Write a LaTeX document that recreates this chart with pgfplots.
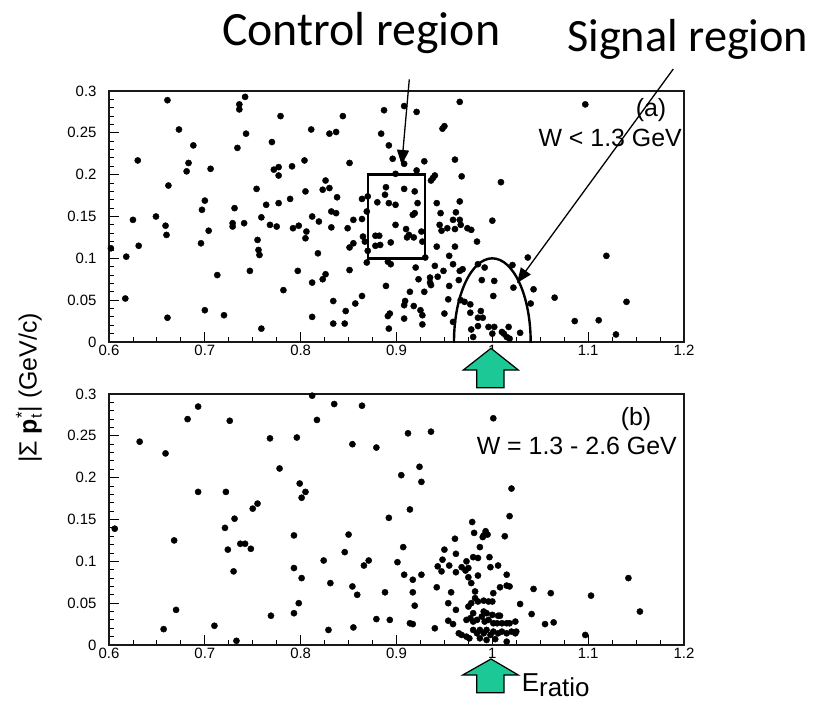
\documentclass[border=0pt]{standalone}
\usepackage{pgfplots}
\pgfplotsset{compat=1.18}
\usepackage{pgfplotstable}
\usepackage{fontspec}
\setmainfont{Liberation Sans}
\newfontfamily\calibri{Carlito}
\usetikzlibrary{arrows.meta}
\definecolor{arrowgreen}{RGB}{28,200,150}

\pgfplotstableread{
x y
0.661 0.289
0.742 0.293
0.736 0.284
0.736 0.278
0.673 0.254
0.779 0.270
0.844 0.270
0.811 0.254
0.830 0.249
0.837 0.251
0.743 0.249
0.887 0.277
0.884 0.249
0.892 0.235
0.896 0.219
0.688 0.235
0.734 0.232
0.770 0.239
0.630 0.217
0.683 0.214
0.681 0.204
0.706 0.207
0.772 0.206
0.777 0.209
0.777 0.199
0.791 0.210
0.804 0.217
0.851 0.214
0.899 0.201
0.662 0.187
0.754 0.183
0.805 0.180
0.826 0.193
0.823 0.182
0.830 0.184
0.838 0.173
0.889 0.185
0.888 0.176
0.880 0.167
0.892 0.166
0.899 0.164
0.864 0.171
0.870 0.174
0.700 0.169
0.764 0.164
0.777 0.166
0.789 0.171
0.697 0.158
0.731 0.160
0.832 0.156
0.837 0.154
0.625 0.146
0.649 0.150
0.659 0.139
0.660 0.128
0.704 0.133
0.729 0.142
0.729 0.138
0.741 0.142
0.759 0.149
0.768 0.140
0.775 0.138
0.792 0.136
0.798 0.139
0.806 0.132
0.805 0.124
0.812 0.150
0.819 0.144
0.832 0.137
0.849 0.136
0.855 0.146
0.864 0.147
0.869 0.156
0.899 0.140
0.865 0.126
0.867 0.120
0.878 0.127
0.882 0.127
0.878 0.115
0.883 0.116
0.894 0.119
0.855 0.118
0.851 0.113
0.870 0.109
0.869 0.095
0.891 0.096
0.894 0.093
0.602 0.112
0.618 0.102
0.631 0.115
0.696 0.118
0.755 0.122
0.756 0.110
0.757 0.104
0.818 0.106
0.747 0.085
0.713 0.080
0.797 0.085
0.826 0.081
0.823 0.075
0.812 0.071
0.782 0.062
0.851 0.086
0.889 0.067
0.617 0.052
0.834 0.049
0.864 0.055
0.857 0.046
0.700 0.038
0.720 0.032
0.661 0.029
0.812 0.030
0.847 0.037
0.893 0.034
0.891 0.031
0.834 0.022
0.846 0.022
0.759 0.016
0.892 0.016
0.908 0.282
0.921 0.275
0.966 0.287
1.097 0.284
0.948 0.255
0.950 0.258
0.961 0.218
0.908 0.213
0.921 0.205
0.929 0.216
0.938 0.196
0.940 0.199
0.936 0.193
0.968 0.198
1.009 0.191
0.908 0.183
0.919 0.180
0.922 0.166
0.917 0.152
0.919 0.154
0.910 0.135
0.913 0.128
0.918 0.125
0.911 0.125
0.926 0.132
0.927 0.120
0.942 0.166
0.966 0.168
0.946 0.154
0.962 0.155
0.945 0.140
0.947 0.133
0.953 0.136
0.959 0.146
0.966 0.146
0.967 0.140
0.961 0.135
0.974 0.136
0.978 0.134
1.000 0.145
0.984 0.120
0.942 0.114
0.961 0.114
0.955 0.103
0.930 0.101
0.959 0.093
1.037 0.101
1.119 0.103
0.920 0.089
0.940 0.091
0.949 0.085
0.943 0.078
0.935 0.077
0.935 0.071
0.936 0.068
0.966 0.085
0.969 0.087
0.985 0.093
0.992 0.089
0.989 0.074
1.002 0.073
1.021 0.092
1.022 0.065
1.043 0.063
1.001 0.055
0.965 0.074
0.955 0.067
0.923 0.075
0.929 0.060
0.914 0.060
0.954 0.051
0.909 0.049
0.908 0.044
0.918 0.043
0.925 0.038
0.927 0.032
0.927 0.021
0.908 0.028
1.040 0.046
1.065 0.053
1.140 0.048
1.086 0.025
1.111 0.026
1.129 0.009
0.967 0.050
0.971 0.048
0.977 0.045
0.950 0.034
0.977 0.035
0.988 0.037
0.985 0.029
0.990 0.029
0.959 0.024
0.985 0.019
0.978 0.015
0.980 0.006
0.996 0.018
1.002 0.018
1.000 0.010
1.010 0.012
1.012 0.010
1.015 0.006
1.018 0.004
1.017 0.018
1.029 0.011
}\toptable

\pgfplotstableread{
x y
0.812 0.298
0.835 0.288
0.864 0.286
0.693 0.285
0.682 0.270
0.726 0.268
0.817 0.269
0.632 0.243
0.659 0.229
0.768 0.247
0.796 0.248
0.854 0.240
0.879 0.236
0.778 0.211
0.799 0.193
0.805 0.183
0.801 0.176
0.693 0.183
0.722 0.183
0.755 0.169
0.750 0.163
0.731 0.151
0.721 0.140
0.606 0.139
0.668 0.125
0.724 0.114
0.737 0.121
0.742 0.121
0.748 0.115
0.730 0.088
0.793 0.131
0.793 0.092
0.801 0.080
0.850 0.132
0.846 0.111
0.824 0.101
0.866 0.095
0.871 0.101
0.892 0.152
0.901 0.099
0.831 0.074
0.854 0.070
0.859 0.060
0.888 0.063
0.798 0.050
0.670 0.042
0.793 0.038
0.769 0.035
0.879 0.031
0.893 0.030
0.657 0.019
0.710 0.023
0.829 0.018
0.855 0.021
0.733 0.005
1.001 0.271
0.912 0.253
0.936 0.255
0.924 0.213
0.905 0.203
0.926 0.195
1.020 0.187
0.914 0.162
1.018 0.154
0.979 0.147
0.981 0.134
0.993 0.136
0.991 0.131
0.990 0.129
0.995 0.132
1.013 0.130
0.961 0.127
0.907 0.117
0.950 0.114
0.987 0.117
0.962 0.109
0.948 0.102
0.973 0.100
0.980 0.105
0.985 0.104
0.997 0.105
0.943 0.094
0.947 0.088
0.955 0.095
0.968 0.093
0.975 0.092
0.972 0.089
0.962 0.087
0.998 0.093
1.006 0.095
0.908 0.084
0.926 0.084
0.917 0.078
0.975 0.081
0.985 0.083
1.015 0.084
0.942 0.069
0.917 0.063
1.061 0.062
1.103 0.059
1.142 0.080
1.154 0.040
0.919 0.047
0.914 0.026
0.917 0.025
0.940 0.020
1.055 0.025
1.064 0.027
1.097 0.012
0.978 0.074
1.008 0.069
1.015 0.071
1.018 0.070
1.043 0.067
0.957 0.063
0.982 0.064
1.001 0.062
0.954 0.050
0.962 0.042
0.975 0.046
0.978 0.050
0.982 0.056
0.980 0.038
0.985 0.052
0.991 0.053
0.996 0.052
1.000 0.052
1.029 0.049
0.991 0.040
0.994 0.038
1.000 0.036
1.006 0.035
1.008 0.035
1.041 0.037
0.954 0.029
0.959 0.025
0.973 0.030
0.977 0.032
0.980 0.028
0.984 0.030
0.989 0.034
0.992 0.028
0.996 0.030
1.001 0.026
1.005 0.026
1.010 0.026
1.015 0.026
1.018 0.026
1.024 0.028
0.965 0.014
0.968 0.012
0.973 0.010
0.976 0.008
0.980 0.018
0.984 0.014
0.987 0.018
0.991 0.014
0.994 0.018
0.998 0.012
1.001 0.016
1.006 0.014
1.010 0.016
1.015 0.014
1.020 0.016
1.024 0.014
1.025 0.016
0.987 0.008
0.994 0.006
1.003 0.007
1.015 0.004
}\bottable

\pgfplotsset{
  rootaxis/.style={
    scale only axis, width=575bp, height=251bp,
    xmin=0.6, xmax=1.2, ymin=0, ymax=0.3,
    xtick={0.6,0.7,0.8,0.9,1.0,1.1,1.2},
    ytick={0,0.05,0.1,0.15,0.2,0.25,0.3},
    minor x tick num=3, minor y tick num=4,
    tick pos=left, tick align=inside,
    major tick length=10bp, minor tick length=5bp,
    axis line style={line width=1.2bp, black!90},
    every tick/.style={black, line width=0.9bp},
    tick label style={font=\fontsize{15}{15}\selectfont},
    /pgf/number format/assume math mode=true,
    /pgf/number format/fixed,
    /pgf/number format/precision=2,
    yticklabel style={xshift=-9bp},
  },
  dots/.style={only marks, mark=*, mark size=3.1bp, black, mark options={fill=black}},
}

\begin{document}
\begin{tikzpicture}
\useasboundingbox (0,0) rectangle (819bp,-701bp);

\begin{axis}[rootaxis, at={(109bp,-342bp)}, anchor=south west]
  \addplot[dots] table[x=x,y=y] {\toptable};
  \draw[line width=2.4bp] (axis cs:0.87,0.1) rectangle (axis cs:0.93,0.2);
  \draw[line width=2.4bp] (axis cs:1.0,0) ellipse [x radius=0.04, y radius=0.1];
\end{axis}

\begin{axis}[rootaxis, at={(109bp,-645bp)}, anchor=south west]
  \addplot[dots] table[x=x,y=y] {\bottable};
\end{axis}

% panel texts
\node[inner sep=0, font=\fontsize{25}{25}\selectfont] at (651bp,-110bp) {(a)};
\node[anchor=east, inner sep=0, font=\fontsize{25}{25}\selectfont] at (682bp,-138bp) {W < 1.3 GeV};
\node[inner sep=0, font=\fontsize{25}{25}\selectfont] at (636bp,-419bp) {(b)};
\node[anchor=east, inner sep=0, font=\fontsize{25}{25}\selectfont] at (677bp,-446bp) {W = 1.3 - 2.6 GeV};

% y label
\node[rotate=90, inner sep=0, font=\fontsize{25}{25}\selectfont] at (29bp,-388bp)
  {|Σ \textbf{p}\makebox[0pt][l]{\raisebox{-5bp}{\fontsize{16}{16}\selectfont t}}\raisebox{9bp}{\fontsize{17}{17}\selectfont *}| (GeV/c)};

% region labels and arrows
\node[anchor=base west, inner sep=0, font=\calibri\fontsize{48}{48}\selectfont] at (222bp,-45bp) {Control region};
\node[anchor=base west, inner sep=0, font=\calibri\fontsize{46.5}{46.5}\selectfont] at (567bp,-51bp) {Signal region};
\draw[line width=1.3bp, -{Triangle[length=15bp,width=12bp]}] (409.3bp,-79.3bp) -- (401.7bp,-165bp);
\draw[line width=1.3bp, -{Triangle[length=15bp,width=12bp]}] (673.3bp,-69bp) -- (517bp,-283bp);

% green arrows
\filldraw[fill=arrowgreen, draw=black, line width=1.2bp]
  (491bp,-348.3bp) -- (518.3bp,-370bp) -- (504bp,-370bp) -- (504bp,-387.7bp)
  -- (476.7bp,-387.7bp) -- (476.7bp,-370bp) -- (463.3bp,-370bp) -- cycle;
\filldraw[fill=arrowgreen, draw=black, line width=1.2bp]
  (491bp,-659bp) -- (518.3bp,-675bp) -- (504bp,-675bp) -- (504bp,-692.7bp)
  -- (476.7bp,-692.7bp) -- (476.7bp,-675bp) -- (462.7bp,-675bp) -- cycle;
\node[anchor=base west, inner sep=0, font=\fontsize{26}{26}\selectfont] at (521.7bp,-691bp) {E\raisebox{-5bp}{ratio}};
\end{tikzpicture}
\end{document}
